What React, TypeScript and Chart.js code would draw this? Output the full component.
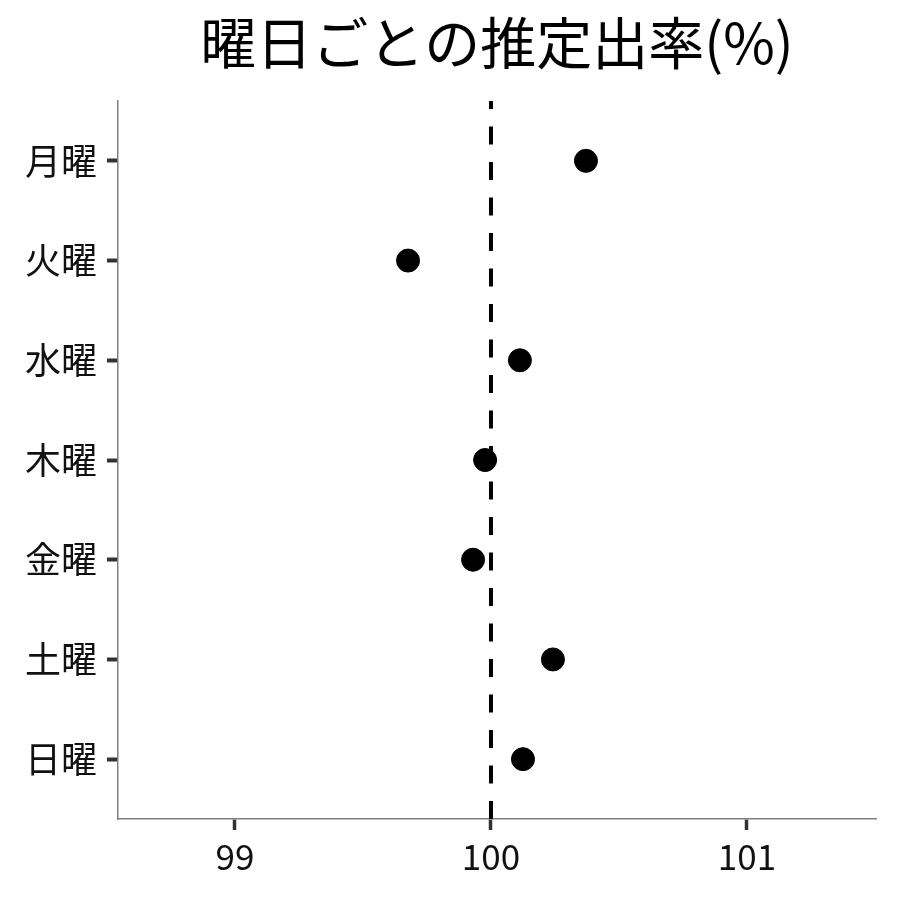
import React, { useEffect, useRef } from "react";
import { Chart, registerables } from "chart.js";

Chart.register(...registerables);

const days: string[] = ["月曜", "火曜", "水曜", "木曜", "金曜", "土曜", "日曜"];
const rates: number[] = [100.371, 99.676, 100.113, 99.977, 99.93, 100.242, 100.125];
const xTicks: number[] = [99, 100, 101];
const refValue = 100;
const xMin = 98.543;
const xMax = 101.504;
const titleText = "曜日ごとの推定出率(%)";

const FONT = "'Noto Sans CJK JP', 'Noto Sans', sans-serif";

export default function App() {
  const ref = useRef<HTMLCanvasElement | null>(null);

  useEffect(() => {
    if (!ref.current) return;
    const titlePlugin = {
      id: "centerTitle",
      afterDraw(chart: any) {
        const { ctx, chartArea } = chart;
        ctx.save();
        ctx.font = `56px ${FONT}`;
        ctx.fillStyle = "#000";
        ctx.textAlign = "center";
        ctx.textBaseline = "middle";
        ctx.fillText(titleText, (chartArea.left + chartArea.right) / 2, 43);
        ctx.restore();
      },
    };
    const chart = new Chart(ref.current, {
      type: "scatter",
      data: {
        datasets: [
          {
            type: "line",
            data: [
              { x: refValue, y: 6.6 },
              { x: refValue, y: -0.6 },
            ],
            borderColor: "#000",
            borderWidth: 4,
            borderDash: [18, 17.5],
            pointRadius: 0,
            fill: false,
            order: 2,
          } as any,
          {
            data: rates.map((v, i) => ({ x: v, y: i })),
            backgroundColor: "#000",
            borderColor: "#000",
            pointRadius: 11.5,
            pointHoverRadius: 11.5,
            order: 1,
          },
        ],
      },
      options: {
        responsive: false,
        animation: false,
        layout: { padding: { top: 101, right: 24, left: 0, bottom: 0 } },
        plugins: {
          legend: { display: false },
          tooltip: { enabled: false },
          title: { display: false },
        },
        scales: {
          x: {
            type: "linear",
            min: xMin,
            max: xMax,
            afterBuildTicks: (scale: any) => {
              scale.ticks = xTicks.map((v) => ({ value: v }));
            },
            afterFit: (scale: any) => {
              scale.height = 81;
            },
            grid: {
              drawOnChartArea: false,
              tickLength: 11,
              tickWidth: 3.5,
              tickColor: "#333",
            },
            border: { color: "#808080", width: 1.5 },
            ticks: {
              color: "#111",
              font: { family: FONT, size: 35 },
              padding: 6,
              maxRotation: 0,
            },
          },
          y: {
            type: "linear",
            min: -0.6,
            max: 6.6,
            reverse: true,
            afterBuildTicks: (scale: any) => {
              scale.ticks = days.map((_, i) => ({ value: i }));
            },
            afterFit: (scale: any) => {
              scale.width = 118;
            },
            grid: {
              drawOnChartArea: false,
              tickLength: 11,
              tickWidth: 4,
              tickColor: "#333",
            },
            border: { color: "#808080", width: 1.5 },
            ticks: {
              color: "#111",
              font: { family: FONT, size: 36 },
              padding: 10,
              callback: (v: any) => days[Math.round(Number(v))] ?? "",
            },
          },
        },
      },
      plugins: [titlePlugin],
    });
    return () => chart.destroy();
  }, []);

  return (
    <div style={{ position: "fixed", left: 0, top: 0, width: 900, height: 900, background: "#fff" }}>
      <canvas ref={ref} width={900} height={900} />
    </div>
  );
}
